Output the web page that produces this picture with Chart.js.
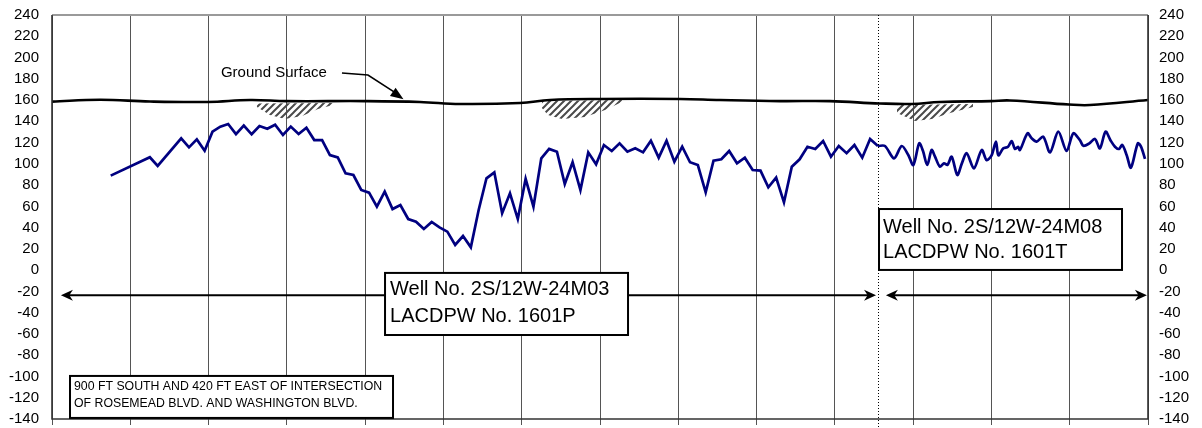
<!DOCTYPE html>
<html>
<head>
<meta charset="utf-8">
<script src="https://cdn.jsdelivr.net/npm/chart.js@4.4.1/dist/chart.umd.min.js"></script>
<style>
  html, body { margin: 0; padding: 0; background: #fff; }
  canvas { display: block; }
</style>
</head>
<body>
<canvas id="hydrograph" width="1202" height="428"></canvas>
<script>
// ---- Water level hydrograph data (elevation in feet, time in decimal years) ----
const elevationTicks = [-140, -120, -100, -80, -60, -40, -20, 0, 20, 40, 60, 80, 100, 120, 140, 160, 180, 200, 220, 240];
const yearTicks = [1930, 1935, 1940, 1945, 1950, 1955, 1960, 1965, 1970, 1975, 1980, 1985, 1990, 1995, 2000];

// Well No. 2S/12W-24M03 (LACDPW No. 1601P)
const well1601PYears = [
  1933.75, 1936.25, 1936.75, 1938.25, 1938.75, 1939.25, 1939.75, 1940.25, 1940.75, 1941.25,
  1941.75, 1942.25, 1942.75, 1943.25, 1943.75, 1944.25, 1944.75, 1945.25, 1945.75, 1946.25,
  1946.75, 1947.25, 1947.75, 1948.25, 1948.75, 1949.25, 1949.75, 1950.25, 1950.75, 1951.25,
  1951.75, 1952.25, 1952.75, 1953.25, 1953.75, 1954.25, 1954.75, 1955.25, 1955.75, 1956.25,
  1956.75, 1957.25, 1957.75, 1958.25, 1958.75, 1959.25, 1959.75, 1960.25, 1960.75, 1961.25,
  1961.75, 1962.25, 1962.75, 1963.25, 1963.75, 1964.25, 1964.75, 1965.25, 1965.75, 1966.25,
  1966.75, 1967.25, 1967.75, 1968.25, 1968.75, 1969.25, 1969.75, 1970.25, 1970.75, 1971.25,
  1971.75, 1972.25, 1972.75, 1973.25, 1973.75, 1974.25, 1974.75, 1975.25, 1975.75, 1976.25,
  1976.75, 1977.25, 1977.75, 1978.25, 1978.75, 1979.25, 1979.75, 1980.25, 1980.75, 1981.25,
  1981.75, 1982.25, 1982.75
];
const well1601PLevels = [
  88.9, 106.2, 98, 124, 115.5, 123, 112.4, 130.3, 135, 137.5,
  128, 136, 127.8, 135.6, 133, 136.8, 127.1, 135, 128, 134,
  122.4, 122.4, 108.3, 106, 91, 89.5, 75.4, 72.9, 59.7, 73.8,
  57.5, 61.3, 48.1, 45.6, 38.7, 45.3, 40.3, 36.2, 23.7, 32.1,
  21.5, 56.6, 86.4, 92, 53.5, 72.3, 48.1, 85.8, 59.7, 105.2,
  114, 111.4, 81, 101.5, 75.4, 110.8, 99.6, 117.7, 112.1, 119.3,
  111.4, 114.6, 110.8, 121.8, 105.8, 121.8, 102, 116.1, 101.5, 98.9,
  73.2, 103, 104.3, 112.1, 100.5, 105.8, 94.2, 93.6, 77.9, 87,
  63.8, 97.3, 104.3, 116.1, 114, 121.5, 106.7, 116.8, 110, 117.7,
  105.8, 123.4, 116.8
];

// Well No. 2S/12W-24M08 (LACDPW No. 1601T)
const well1601TYears = [
  1982.75, 1983.20, 1983.78, 1984.27, 1984.69, 1985.01, 1985.39, 1985.63, 1985.90, 1986.18,
  1986.39, 1986.71, 1986.97, 1987.19, 1987.46, 1987.82, 1988.10, 1988.42, 1988.88, 1989.38,
  1989.69, 1990.01, 1990.29, 1990.44, 1990.76, 1991.06, 1991.29, 1991.50, 1991.70, 1991.82,
  1992.31, 1992.57, 1992.89, 1993.31, 1993.74, 1994.27, 1994.80, 1995.23, 1995.66, 1995.87,
  1996.23, 1996.61, 1996.93, 1997.29, 1997.61, 1997.89, 1998.14, 1998.36, 1998.64, 1998.91,
  1999.35, 1999.56, 1999.81
];
const well1601TLevels = [
  116.8, 116.8, 105.2, 116.8, 108.3, 98.9, 119.3, 112, 98.9, 113,
  107, 97.3, 100.5, 99, 106.7, 89.5, 100, 110, 95.8, 113,
  103.6, 108, 120.9, 108, 114.6, 116, 121.5, 114, 116, 113,
  128.7, 124, 120.9, 125.5, 110.8, 130.3, 112.1, 128.7, 122, 117,
  119, 123.4, 114.6, 130.3, 122, 116.1, 114, 117.7, 108, 96.4,
  119.3, 116, 104.6
];

// Ground surface elevation
const groundYears = [
  1930.0, 1933.07, 1936.26, 1939.96, 1942.65, 1945.01, 1949.99, 1953.5, 1956.06, 1959.89,
  1961.81, 1965.0, 1970.11, 1972.66, 1976.49, 1979.69, 1982.88, 1984.92, 1986.71, 1989.97,
  1991.18, 1994.95, 1996.29, 2000.0
];
const groundElevations = [
  158.5, 160.3, 158.6, 158.2, 160, 159, 159, 158.2, 156.3, 157.2,
  160, 161, 161, 160, 159, 159, 156.8, 156.3, 158.2, 159,
  159.6, 155.8, 155.3, 160
];

// Hatched outlines under the ground surface: [year, elevation] vertices
const hatchPatchA = [[1943.09, 156.8], [1947.95, 157.2], [1947.95, 155.4], [1946.99, 151.6], [1945.97, 145], [1944.88, 142.2], [1943.92, 145.9], [1943.09, 153.5]];
const hatchPatchB = [[1961.29, 159.1], [1966.40, 160], [1966.40, 158.2], [1965.32, 150.6], [1964.04, 144], [1962.57, 142.2], [1961.68, 145.9], [1961.29, 152.5]];
const hatchPatchC = [[1983.97, 155.3], [1988.82, 156.3], [1988.82, 153.5], [1987.35, 147.8], [1986.20, 142.2], [1985.12, 140.3], [1983.97, 147.8]];

// ---- Drawing ----
const FONT = '"Liberation Sans", Arial, Helvetica, sans-serif';
const wellChangeYear = 1982.75;

const toPoints = (xs, ys) => xs.map((v, i) => ({ x: v, y: ys[i] }));

function hatchPattern(ctx) {
  const n = 7;
  const c = document.createElement('canvas');
  c.width = n; c.height = n;
  const g = c.getContext('2d');
  g.strokeStyle = '#4a4a4a';
  g.lineWidth = 2;
  g.beginPath();
  g.moveTo(-1, n + 1); g.lineTo(n + 1, -1);
  g.moveTo(-1, 1); g.lineTo(1, -1);
  g.moveTo(n - 1, n + 1); g.lineTo(n + 1, n - 1);
  g.stroke();
  return ctx.createPattern(c, 'repeat');
}

function arrowHead(ctx, tipX, tipY, dir, len, half) {
  // dir: +1 points right, -1 points left
  ctx.beginPath();
  ctx.moveTo(tipX, tipY);
  ctx.lineTo(tipX - dir * len, tipY - half);
  ctx.lineTo(tipX - dir * len * 0.7, tipY);
  ctx.lineTo(tipX - dir * len, tipY + half);
  ctx.closePath();
  ctx.fill();
}

function labelBox(ctx, x, y, box, lines, font, lineOffsets, padX) {
  const l = x.getPixelForValue(box.x0), r = x.getPixelForValue(box.x1);
  const t = y.getPixelForValue(box.top), b = y.getPixelForValue(box.bottom);
  ctx.fillStyle = '#fff';
  ctx.fillRect(l, t, r - l, b - t);
  ctx.strokeStyle = '#000';
  ctx.lineWidth = 2;
  ctx.strokeRect(l, t, r - l, b - t);
  ctx.fillStyle = '#000';
  ctx.font = font;
  ctx.textAlign = 'left';
  ctx.textBaseline = 'middle';
  lines.forEach((s, i) => ctx.fillText(s, l + padX, t + lineOffsets[i]));
}

const notesPlugin = {
  id: 'hydroNotes',
  beforeDatasetsDraw(chart) {
    const { ctx, chartArea: a, scales: { x, y } } = chart;
    ctx.save();
    ctx.beginPath(); ctx.rect(a.left, a.top, a.width, a.height); ctx.clip();
    const pat = hatchPattern(ctx);
    [hatchPatchA, hatchPatchB, hatchPatchC].forEach(p => {
      ctx.beginPath();
      p.forEach(([yr, el], i) => {
        const px = x.getPixelForValue(yr), py = y.getPixelForValue(el);
        if (i) ctx.lineTo(px, py); else ctx.moveTo(px, py);
      });
      ctx.closePath();
      ctx.fillStyle = pat;
      ctx.fill();
    });
    ctx.restore();
  },
  afterDraw(chart) {
    const { ctx, chartArea: a, scales: { x, y } } = chart;
    ctx.save();

    // plot frame
    ctx.lineWidth = 2;
    ctx.strokeStyle = '#9a9a9a';
    ctx.beginPath(); ctx.moveTo(a.left, a.top); ctx.lineTo(a.right, a.top); ctx.stroke();
    ctx.strokeStyle = '#333';
    ctx.lineWidth = 1.6;
    ctx.beginPath();
    ctx.moveTo(a.left, a.top); ctx.lineTo(a.left, a.bottom); ctx.lineTo(a.right, a.bottom); ctx.lineTo(a.right, a.top);
    ctx.stroke();

    // dotted divider where the record switches wells
    const dx = Math.round(x.getPixelForValue(wellChangeYear)) + 0.5;
    ctx.strokeStyle = '#000';
    ctx.lineWidth = 1;
    ctx.setLineDash([1, 2]);
    ctx.beginPath(); ctx.moveTo(dx, a.top); ctx.lineTo(dx, a.bottom + 9); ctx.stroke();
    ctx.setLineDash([]);

    // record-span arrows
    const ay = y.getPixelForValue(-23.5);
    ctx.fillStyle = '#000';
    ctx.lineWidth = 2;
    const spans = [[1930.57, 1982.63], [1983.26, 1999.93]];
    spans.forEach(([s, e]) => {
      const xs = x.getPixelForValue(s), xe = x.getPixelForValue(e);
      ctx.beginPath(); ctx.moveTo(xs + 6, ay); ctx.lineTo(xe - 6, ay); ctx.stroke();
      arrowHead(ctx, xs, ay, -1, 12, 5.5);
      arrowHead(ctx, xe, ay, 1, 12, 5.5);
    });

    // ground surface label with leader
    ctx.font = '15px ' + FONT;
    ctx.textAlign = 'left';
    ctx.textBaseline = 'middle';
    ctx.fillText('Ground Surface', x.getPixelForValue(1940.79), y.getPixelForValue(185.4));
    const p1 = [x.getPixelForValue(1948.52), y.getPixelForValue(185.4)];
    const p2 = [x.getPixelForValue(1950.18), y.getPixelForValue(183.6)];
    const p3 = [x.getPixelForValue(1952.45), y.getPixelForValue(160.8)];
    ctx.lineWidth = 1.6;
    ctx.beginPath(); ctx.moveTo(p1[0], p1[1]); ctx.lineTo(p2[0], p2[1]); ctx.lineTo(p3[0] - 6, p3[1] - 5); ctx.stroke();
    const ang = Math.atan2(p3[1] - p2[1], p3[0] - p2[0]);
    ctx.beginPath();
    ctx.moveTo(p3[0], p3[1]);
    ctx.lineTo(p3[0] - 13 * Math.cos(ang) + 5 * Math.sin(ang), p3[1] - 13 * Math.sin(ang) - 5 * Math.cos(ang));
    ctx.lineTo(p3[0] - 13 * Math.cos(ang) - 5 * Math.sin(ang), p3[1] - 13 * Math.sin(ang) + 5 * Math.cos(ang));
    ctx.closePath();
    ctx.fill();

    // well label boxes
    labelBox(ctx, x, y, { x0: 1951.27, x1: 1966.79, top: -2.6, bottom: -61 },
      ['Well No. 2S/12W-24M03', 'LACDPW No. 1601P'], '20px ' + FONT, [17, 44], 5);
    labelBox(ctx, x, y, { x0: 1982.82, x1: 1998.34, top: 57.5, bottom: 0.2 },
      ['Well No. 2S/12W-24M08', 'LACDPW No. 1601T'], '20px ' + FONT, [18, 43], 4);
    labelBox(ctx, x, y, { x0: 1931.15, x1: 1951.78, top: -99.5, bottom: -139 },
      ['900 FT SOUTH AND 420 FT EAST OF INTERSECTION', 'OF ROSEMEAD BLVD. AND WASHINGTON BLVD.'], '12.3px ' + FONT, [11, 28], 4);

    ctx.restore();
  }
};

const yTickSetup = (scale) => { scale.ticks = elevationTicks.map(v => ({ value: v })); };
// fixed axis sizes; labels may overhang the plot edges without shrinking it
const fitVertical = (w) => (s) => { s.width = w; s.paddingTop = 0; s.paddingBottom = 0; };

new Chart(document.getElementById('hydrograph'), {
  type: 'line',
  data: {
    datasets: [
      {
        label: 'Ground Surface',
        data: toPoints(groundYears, groundElevations),
        borderColor: '#000',
        borderWidth: 2.6,
        pointRadius: 0,
        tension: 0.4,
        yAxisID: 'y'
      },
      {
        label: 'Well No. 2S/12W-24M03',
        data: toPoints(well1601PYears, well1601PLevels),
        borderColor: '#000080',
        borderWidth: 2.7,
        pointRadius: 0,
        tension: 0,
        yAxisID: 'y'
      },
      {
        label: 'Well No. 2S/12W-24M08',
        data: toPoints(well1601TYears, well1601TLevels),
        borderColor: '#000080',
        borderWidth: 2.7,
        pointRadius: 0,
        tension: 0.3,
        yAxisID: 'y'
      }
    ]
  },
  options: {
    responsive: false,
    animation: false,
    layout: { padding: { top: 15, left: 0, right: 0, bottom: 0 } },
    plugins: { legend: { display: false }, tooltip: { enabled: false } },
    scales: {
      x: {
        type: 'linear',
        min: yearTicks[0],
        max: yearTicks[yearTicks.length - 1],
        afterBuildTicks: (s) => { s.ticks = yearTicks.map(v => ({ value: v })); },
        afterFit: (s) => { s.height = 9; s.paddingLeft = 0; s.paddingRight = 0; },
        ticks: { display: false },
        grid: { display: true, color: '#555', lineWidth: 1, drawTicks: true, tickLength: 6 },
        border: { display: false }
      },
      y: {
        position: 'left',
        min: -140,
        max: 240,
        afterBuildTicks: yTickSetup,
        afterFit: fitVertical(52),
        ticks: { color: '#000', font: { family: FONT, size: 15 }, padding: 13, autoSkip: false },
        grid: { display: false, drawTicks: false },
        border: { display: false }
      },
      y2: {
        position: 'right',
        min: -140,
        max: 240,
        afterBuildTicks: yTickSetup,
        afterFit: fitVertical(54),
        ticks: { color: '#000', font: { family: FONT, size: 15 }, padding: 11, autoSkip: false },
        grid: { display: false, drawTicks: false },
        border: { display: false }
      }
    }
  },
  plugins: [notesPlugin]
});
</script>
</body>
</html>
